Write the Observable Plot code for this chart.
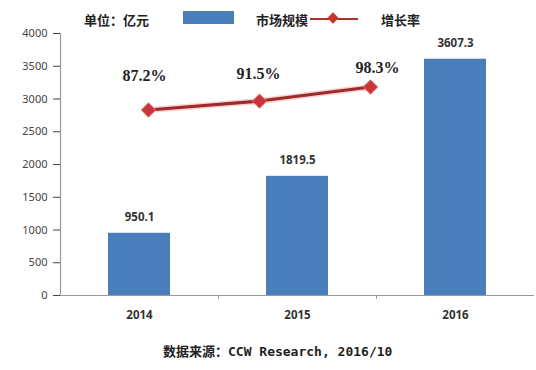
<!DOCTYPE html>
<html>
<head>
<meta charset="utf-8">
<script src="https://cdn.jsdelivr.net/npm/d3@7"></script>
<script src="https://cdn.jsdelivr.net/npm/@observablehq/plot@0.6"></script>
<style>
  html, body { margin: 0; padding: 0; background: #fff; }
  #wrap { position: relative; width: 536px; height: 370px; overflow: hidden; background: #fff;
          font-family: "Noto Sans CJK SC", "Noto Sans", sans-serif; }
  #wrap svg { position: absolute; left: 0; top: 0; }
  .lg { position: absolute; font-weight: bold; font-size: 13px; color: #222; line-height: 16px; }
  #caption { position: absolute; left: 163px; top: 341px; font-weight: bold; font-size: 13px; color: #222;
             font-family: "DejaVu Sans Mono", "Noto Sans CJK SC", monospace; white-space: nowrap; }
</style>
</head>
<body>
<div id="wrap">
  <div class="lg" style="left:84px; top:12px;">单位：亿元</div>
  <div style="position:absolute; left:183px; top:11px; width:51px; height:13px; background:#4A7EBB;"></div>
  <div class="lg" style="left:256px; top:12px;">市场规模</div>
  <div style="position:absolute; left:310px; top:18px; width:48px; height:2px; background:#B03030;"></div>
  <div style="position:absolute; left:329px; top:14px; width:8px; height:8px; background:#C0392B; transform:rotate(45deg);"></div>
  <div class="lg" style="left:381px; top:12px;">增长率</div>
  <div id="caption">数据来源：CCW Research, 2016/10</div>
</div>
<script>
const years = ["2014", "2015", "2016"];
const marketSize = [950.1, 1819.5, 3607.3];
const growthRate = [0.872, 0.915, 0.983];
const yTicks = [0, 500, 1000, 1500, 2000, 2500, 3000, 3500, 4000];

const bars = years.map((y, i) => ({year: y, value: marketSize[i]}));
const rates = years.map((y, i) => ({year: y, rate: growthRate[i]}));

const W = 536, H = 370;
const mLeft = 60, mRight = 2;
const bandHalf = (W - mLeft - mRight) / years.length / 2;

const main = Plot.plot({
  width: W, height: H,
  marginLeft: mLeft, marginRight: mRight, marginTop: 33, marginBottom: 75,
  style: {background: "transparent", fontFamily: "Noto Sans, sans-serif", overflow: "visible"},
  x: {type: "band", domain: years, padding: 0, axis: null},
  y: {domain: [0, 4000], axis: null},
  marks: [
    Plot.barY(bars, {x: "year", y: "value", fill: "#4A7EBB", insetLeft: 48, insetRight: 48}),
    Plot.ruleY([0], {stroke: "#999", strokeWidth: 1.2}),
    Plot.ruleX([years[0]], {x: d => d, dx: -bandHalf, y1: 0, y2: 4000, stroke: "#999", strokeWidth: 1.2}),
    Plot.ruleX(years.slice(1), {x: d => d, dx: -bandHalf, y1: 0, y2: -60, stroke: "#999"}),
    Plot.axisY({ticks: yTicks, tickSize: 7, tickPadding: 6, fontSize: 11, color: "#444", anchor: "left", label: null, tickFormat: d => String(d)}),
    Plot.text(bars, {x: "year", y: "value", text: d => d.value.toFixed(1), dy: -16, fontSize: 11.5, fontWeight: "bold", fill: "#333"}),
    Plot.text(years, {x: d => d, y: 0, text: d => d, dy: 20, fontSize: 11.5, fontWeight: "bold", fill: "#333"})
  ]
});

document.getElementById("wrap").appendChild(main);

const labelFont = {fontSize: 16, fontWeight: "bold", fill: "#222", fontFamily: "Liberation Serif, serif"};
const fmt = d => (d.rate * 100).toFixed(1) + "%";
const line = Plot.plot({
  width: W, height: H,
  margin: 0,
  style: {background: "transparent", overflow: "visible"},
  x: {type: "point", domain: years, range: [147, 370], padding: 0, axis: null},
  y: {domain: [0, 1], range: [290, 83], axis: null},
  marks: [
    Plot.line(rates, {x: "year", y: "rate", stroke: "#F5B5B5", strokeWidth: 6, strokeOpacity: 0.6}),
    Plot.line(rates, {x: "year", y: "rate", stroke: "#9E2A2A", strokeWidth: 3}),
    Plot.dot(rates, {x: "year", y: "rate", symbol: "diamond2", r: 6.5, fill: "#C9343A", stroke: "#E87878", strokeWidth: 1}),
    Plot.text(rates.slice(0, 1), {x: "year", y: "rate", text: fmt, dx: -4, dy: -34, ...labelFont}),
    Plot.text(rates.slice(1, 2), {x: "year", y: "rate", text: fmt, dx: -1, dy: -27, ...labelFont}),
    Plot.text(rates.slice(2, 3), {x: "year", y: "rate", text: fmt, dx: 7, dy: -19, ...labelFont})
  ]
});
document.getElementById("wrap").appendChild(line);
</script>
</body>
</html>
